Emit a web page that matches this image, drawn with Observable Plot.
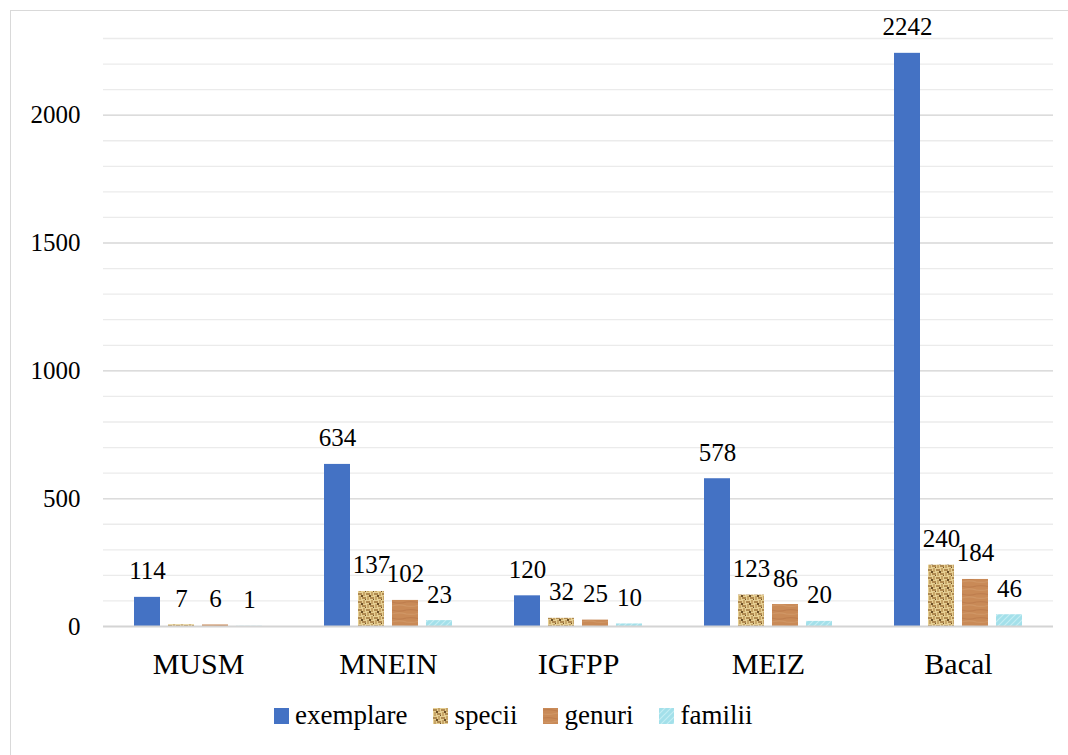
<!DOCTYPE html>
<html>
<head>
<meta charset="utf-8">
<script src="https://cdn.jsdelivr.net/npm/d3@7"></script>
<script src="https://cdn.jsdelivr.net/npm/@observablehq/plot@0.6"></script>
<style>
  html, body { margin: 0; padding: 0; background: #fff; overflow: hidden; }
  body { width: 1068px; height: 755px; position: relative; font-family: 'Liberation Serif'; }
  #frame { position: absolute; left: 10px; top: 10px; width: 1100px; height: 800px; border-left: 1.5px solid #d9d9d9; border-top: 1.5px solid #d9d9d9; }
  #chart { position: absolute; left: 0; top: 0; }
  #legend { position: absolute; left: 274px; top: 700px; display: flex; align-items: center; font-size: 27px; color: #000; font-family: 'Liberation Serif'; }
  #legend .item { display: flex; align-items: center; margin-right: 26px; }
  #legend svg { margin-right: 6px; }
  #chart svg text { font-family: 'Liberation Serif'; }
</style>
</head>
<body>
<svg width="0" height="0" style="position:absolute">
  <defs>
    <pattern id="pat-specii" width="8" height="8" patternUnits="userSpaceOnUse">
      <rect width="8" height="8" fill="#E6CF93"/>
      <rect x="0" y="1" width="4" height="2" fill="#B08A50"/>
      <rect x="5" y="0" width="2" height="4" fill="#C7A567"/>
      <rect x="4" y="5" width="4" height="2" fill="#B08A50"/>
      <rect x="1" y="4" width="2" height="4" fill="#C7A567"/>
      <rect x="3" y="3" width="2" height="2" fill="#6E5028"/>
      <rect x="7" y="7" width="1" height="1" fill="#6E5028"/>
    </pattern>
    <pattern id="pat-genuri" width="24" height="8" patternUnits="userSpaceOnUse">
      <rect width="24" height="8" fill="#C98A57"/>
      <path d="M0 2 Q6 1 12 2.5 T24 2" stroke="#BF7E4E" stroke-width="1.2" fill="none"/>
      <path d="M0 6 Q6 7 12 5.5 T24 6" stroke="#D09665" stroke-width="1.2" fill="none"/>
    </pattern>
    <pattern id="pat-familii" width="6" height="6" patternUnits="userSpaceOnUse">
      <rect width="6" height="6" fill="#A3E0EA"/>
      <path d="M-1 7 L7 -1 M-1 1 L1 -1 M5 7 L7 5" stroke="#C4EEF4" stroke-width="1.2"/>
    </pattern>
  </defs>
</svg>
<div id="frame"></div>
<div id="chart"></div>
<div id="legend"></div>
<script>
const categories = ["MUSM", "MNEIN", "IGFPP", "MEIZ", "Bacal"];
const seriesNames = ["exemplare", "specii", "genuri", "familii"];
const exemplare = [114, 634, 120, 578, 2242];
const specii = [7, 137, 32, 123, 240];
const genuri = [6, 102, 25, 86, 184];
const familii = [1, 23, 10, 20, 46];
const yTicks = [0, 500, 1000, 1500, 2000];
const seriesFills = ["#4472C4", "url(#pat-specii)", "url(#pat-genuri)", "url(#pat-familii)"];

const valuesBySeries = {exemplare, specii, genuri, familii};
const data = [];
categories.forEach((c, i) => {
  seriesNames.forEach(s => data.push({cat: c, series: s, value: valuesBySeries[s][i]}));
});
const minorGrid = d3.range(100, 2400, 100);
const FONT = "Liberation Serif";

const chart = Plot.plot({
  width: 1068,
  height: 690,
  marginLeft: 103,
  marginRight: 15,
  marginTop: 38,
  marginBottom: 64,
  style: {fontFamily: FONT, fontSize: "25px", color: "#000", background: "transparent"},
  fx: {domain: categories, padding: 0, label: null},
  x: {domain: seriesNames, paddingInner: 0.23, paddingOuter: 0.83, axis: null},
  y: {domain: [0, 2300], label: null},
  color: {domain: seriesNames, range: seriesFills},
  marks: [
    Plot.ruleY(minorGrid, {stroke: "#ebebeb", strokeWidth: 1.3}),
    Plot.ruleY(yTicks.filter(d => d > 0), {stroke: "#dcdcdc", strokeWidth: 1.5}),
    Plot.axisY({ticks: yTicks, tickFormat: d => String(d), tickSize: 0, tickPadding: 23, fontSize: 25, fontFamily: FONT, label: null}),
    Plot.axisFx({anchor: "bottom", tickSize: 0, tickPadding: 26, fontSize: 30, fontFamily: FONT, label: null}),
    Plot.barY(data, {fx: "cat", x: "series", y: "value", fill: "series"}),
    Plot.ruleY([0], {stroke: "#d4d4d4", strokeWidth: 2}),
    Plot.text(data, {fx: "cat", x: "series", y: "value", text: d => String(d.value), dy: -26, fontSize: 25, fontFamily: FONT, fill: "#000"})
  ]
});
document.getElementById("chart").appendChild(chart);

const legend = document.getElementById("legend");
seriesNames.forEach((s, i) => {
  const item = document.createElement("div");
  item.className = "item";
  item.innerHTML = `<svg width="15" height="16"><rect width="15" height="16" fill="${seriesFills[i]}"/></svg><span>${s}</span>`;
  legend.appendChild(item);
});
</script>
</body>
</html>
